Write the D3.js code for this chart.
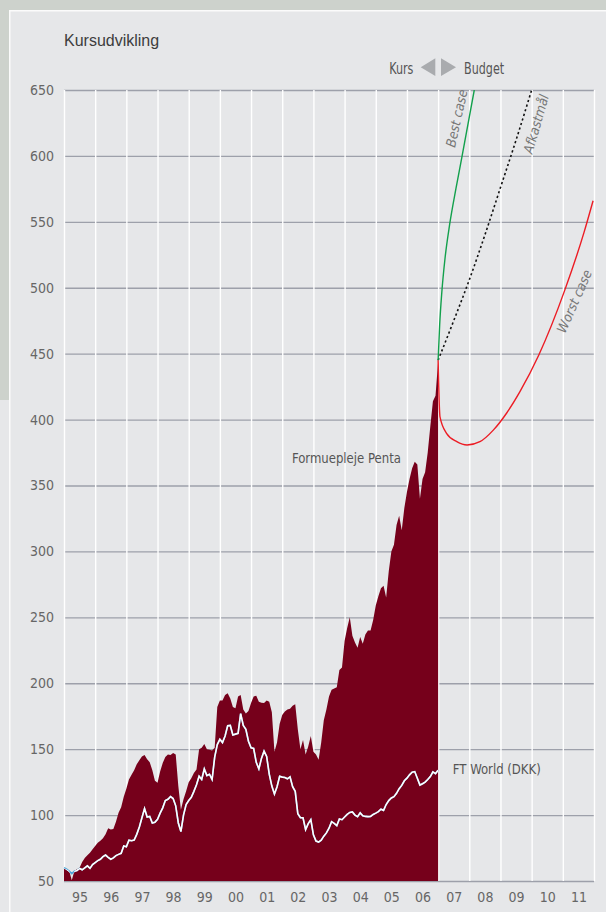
<!DOCTYPE html>
<html>
<head>
<meta charset="utf-8">
<script src="https://cdn.jsdelivr.net/npm/d3@7"></script>
<style>
  body { margin: 0; background: #e6e7e9; }
  svg { display: block; }
</style>
</head>
<body>
<div id="vis"></div>
<script>
// frame and plot dimensions
const FRAME_HEIGHT = 912;
const FRAME_WIDTH = 606;
const MARGINS = {left: 64, right: 12, top: 90, bottom: 31};
const VIS_HEIGHT = FRAME_HEIGHT - MARGINS.top - MARGINS.bottom;
const VIS_WIDTH = FRAME_WIDTH - MARGINS.left - MARGINS.right;

const NARROW = '"Liberation Sans Narrow", "Arial Narrow", "DejaVu Sans Condensed", sans-serif';

// monthly values, first value = jan 1995, last = jan 2007
const START_YEAR = 1995;
const PENTA = [
  59.6, 59, 57.5, 50.5, 57.5, 59, 60, 64.5, 67.5, 69.5, 71.5, 74,
  76.5, 79, 80.5, 82.5, 85.5, 90, 89, 89.5, 95, 101.8, 106, 114,
  120, 127, 130.5, 134, 138.5, 141.5, 144.5, 145.5, 142.3, 140, 134, 126,
  124.6, 133, 139.5, 144, 146, 145.5, 147, 146, 122, 104, 112, 118,
  125, 128, 132, 134.5, 150, 151, 154, 150, 149.5, 149, 151, 182,
  187, 187, 191, 192.5, 188.5, 182, 181, 190, 191, 180, 177, 179,
  185, 190, 190.5, 186, 185.3, 185, 187, 186, 178, 148, 155, 169,
  176, 178.5, 180, 180.7, 183, 184, 165, 150, 157, 146, 152, 160,
  148, 146, 142, 155, 172, 180, 190, 195, 196, 197, 210, 212,
  232, 242, 250, 236, 231, 227, 235, 230, 237, 240, 240, 248,
  259, 266, 272, 274, 265, 285, 300, 305, 320, 327, 316, 333,
  345, 355, 363, 368, 366, 340, 355, 360, 375, 395, 414, 418,
  444
];
const FT_WORLD = [
  60, 59, 57.5, 55.6, 57.5, 58, 59.5, 58.5, 60, 61.5, 59.6, 62.5,
  64, 65.5, 66.5, 68.5, 69.7, 68, 66.5, 67.5, 69.3, 70.2, 71, 76.5,
  76, 81, 80.5, 81, 85.4, 91, 98, 105, 98.5, 99, 94, 94.5,
  96.8, 101.5, 105.5, 111, 112, 114, 112.5, 107, 94, 87.5, 100, 108,
  111, 113.5, 118, 123, 129.5, 127, 135, 130, 131, 127, 144, 153.5,
  157.5, 155, 160, 167.8, 168, 160.8, 161.4, 162, 177, 168, 165, 156,
  151, 150.5, 140, 135, 143, 148.5, 144.5, 131, 122, 116, 121.5, 129.5,
  128.8, 128.5, 127.5, 129, 121.5, 118, 101, 98, 98, 89, 93.5, 96.5,
  85, 80.3, 79.5, 81, 84, 86.5, 90, 95, 93.7, 92, 97, 96.5,
  98.5, 100.5, 102, 102.4, 100, 98.8, 101.8, 99.5, 99, 98.8, 99, 100.5,
  101.5, 102.6, 104.5, 103.6, 108, 111, 113, 114, 116.5, 120, 122.5, 126,
  128, 130.5, 132.5, 133, 128, 122.8, 123.8, 125, 127, 129.2, 132.8, 131.5,
  134
];

// budget scenarios [year, value]
const BEST_CASE = [[2007.0, 445], [2007.05, 472], [2007.12, 497], [2007.22, 522],
  [2007.37, 548], [2007.57, 575], [2007.77, 600], [2008.16, 650]];
const AFKASTMAAL = [[2007.0, 445], [2007.5, 475], [2008.0, 506], [2008.5, 540],
  [2009.0, 576], [2009.5, 612], [2010.0, 650]];
const WORST_CASE = [[2007.0, 445], [2007.02, 425], [2007.06, 402], [2007.27, 389.6],
  [2007.6, 383.2], [2007.93, 380.7], [2008.34, 383.2], [2008.77, 392], [2009.2, 405],
  [2009.62, 421], [2010.23, 449], [2011.06, 498], [2011.68, 542], [2011.97, 566]];

const Y_TICKS = [50, 100, 150, 200, 250, 300, 350, 400, 450, 500, 550, 600, 650];
const GRID_YEARS = [1995, 1996, 1997, 1998, 1999, 2000, 2001, 2002, 2003, 2004,
  2005, 2006, 2007, 2008, 2009, 2010, 2011, 2012];
const YEAR_LABELS = ["95", "96", "97", "98", "99", "00", "01", "02", "03", "04",
  "05", "06", "07", "08", "09", "10", "11"];

// svg frame
const FRAME = d3.select("#vis")
  .append("svg")
    .attr("width", FRAME_WIDTH)
    .attr("height", FRAME_HEIGHT);

// panel background with the grey page border top-left
FRAME.append("rect").attr("width", FRAME_WIDTH).attr("height", FRAME_HEIGHT).attr("fill", "#e6e7e9");
FRAME.append("rect").attr("width", FRAME_WIDTH).attr("height", 10).attr("fill", "#cdd2cc");
FRAME.append("rect").attr("width", 9).attr("height", 400).attr("fill", "#cdd2cc");
FRAME.append("line").attr("x1", 9.75).attr("x2", 9.75).attr("y1", 10).attr("y2", FRAME_HEIGHT)
  .attr("stroke", "#fbfbfb").attr("stroke-width", 1.5);
FRAME.append("line").attr("x1", 9).attr("x2", FRAME_WIDTH).attr("y1", 10.75).attr("y2", 10.75)
  .attr("stroke", "#fbfbfb").attr("stroke-width", 1.5);

// scales
const X_SCALE = d3.scaleLinear().domain([1995, 2012]).range([0, VIS_WIDTH]);
const Y_SCALE = d3.scaleLinear().domain([50, 650]).range([VIS_HEIGHT, 0]);

const G = FRAME.append("g")
  .attr("transform", "translate(" + MARGINS.left + "," + MARGINS.top + ")");

// horizontal grid + y labels
const yAxis = G.append("g")
  .call(d3.axisLeft(Y_SCALE).tickValues(Y_TICKS).tickSize(-VIS_WIDTH).tickPadding(10));
yAxis.select(".domain").remove();
yAxis.selectAll("line").attr("stroke", "#9da0aa").attr("stroke-width", 1.3);
yAxis.selectAll("text")
  .attr("fill", "#666")
  .style("font-family", NARROW)
  .style("font-size", "14px");

// vertical white grid at year boundaries
const xGrid = G.append("g")
  .attr("transform", "translate(0," + VIS_HEIGHT + ")")
  .call(d3.axisBottom(X_SCALE).tickValues(GRID_YEARS).tickSize(-VIS_HEIGHT).tickFormat(""));
xGrid.select(".domain").remove();
xGrid.selectAll("line").attr("stroke", "#ffffff").attr("stroke-width", 1.4);

// year labels centred in each year
const xLabels = G.append("g")
  .attr("transform", "translate(0," + VIS_HEIGHT + ")")
  .call(d3.axisBottom(X_SCALE)
    .tickValues(YEAR_LABELS.map((d, i) => START_YEAR + i + 0.5))
    .tickFormat((d, i) => YEAR_LABELS[i])
    .tickSize(0).tickPadding(11));
xLabels.select(".domain").remove();
xLabels.selectAll("text")
  .attr("fill", "#666")
  .style("font-family", NARROW)
  .style("font-size", "14px");

// monthly data
const pentaData = PENTA.map((v, i) => ({year: START_YEAR + i / 12, value: v}));
const ftData = FT_WORLD.map((v, i) => ({year: START_YEAR + i / 12, value: v}));

const area = d3.area()
  .x((d) => X_SCALE(d.year))
  .y0(Y_SCALE(50))
  .y1((d) => Y_SCALE(d.value));

const line = d3.line()
  .x((d) => X_SCALE(d.year))
  .y((d) => Y_SCALE(d.value));

// clip paths: penta area (for white ft line) and plot box (for budget curves)
const defs = FRAME.append("defs");
defs.append("clipPath").attr("id", "pentaClip")
  .append("path").attr("d", area(pentaData));
defs.append("clipPath").attr("id", "plotClip")
  .append("rect").attr("x", 0).attr("y", 0).attr("width", VIS_WIDTH).attr("height", VIS_HEIGHT);

G.append("path")
  .attr("d", area(pentaData))
  .attr("fill", "#76001b");

// ft world: blue where it runs outside the area, white inside it
G.append("path")
  .attr("d", line(ftData))
  .attr("fill", "none")
  .attr("stroke", "#4ea6d8")
  .attr("stroke-width", 1.6);
G.append("path")
  .attr("d", line(ftData))
  .attr("clip-path", "url(#pentaClip)")
  .attr("fill", "none")
  .attr("stroke", "#ffffff")
  .attr("stroke-width", 1.6);

// budget scenarios
const curve = d3.line()
  .x((d) => X_SCALE(d[0]))
  .y((d) => Y_SCALE(d[1]))
  .curve(d3.curveMonotoneX);

const budget = G.append("g").attr("clip-path", "url(#plotClip)");
budget.append("path").attr("d", curve(AFKASTMAAL))
  .attr("fill", "none").attr("stroke", "#111").attr("stroke-width", 1.6)
  .attr("stroke-dasharray", "2.2,2.6");
budget.append("path").attr("d", curve(BEST_CASE))
  .attr("fill", "none").attr("stroke", "#12a04c").attr("stroke-width", 1.4);
budget.append("path").attr("d", curve(WORST_CASE))
  .attr("fill", "none").attr("stroke", "#ec1c24").attr("stroke-width", 1.4);

// rotated scenario labels
function scenarioLabel(text, year, value, angle) {
  G.append("text")
    .attr("transform", "translate(" + X_SCALE(year) + "," + Y_SCALE(value) + ") rotate(" + angle + ")")
    .attr("fill", "#777")
    .style("font-family", NARROW)
    .style("font-style", "italic")
    .style("font-size", "13.5px")
    .text(text);
}
scenarioLabel("Best case", 2007.54, 606, -77.5);
scenarioLabel("Afkastmål", 2010.02, 601, -74);
scenarioLabel("Worst case", 2011.07, 465, -66);

// series labels (narrow text squeezed a little)
function seriesLabel(text, year, value) {
  G.append("text")
    .attr("transform", "translate(" + X_SCALE(year) + "," + Y_SCALE(value) + ") scale(0.93,1)")
    .attr("fill", "#555")
    .style("font-family", NARROW).style("font-size", "14px")
    .text(text);
}
seriesLabel("Formuepleje Penta", 2002.31, 367);
seriesLabel("FT World (DKK)", 2007.47, 131.2);

// title
FRAME.append("text")
  .attr("x", 64).attr("y", 45.5)
  .attr("fill", "#3d3d3d")
  .style("font-family", '"Liberation Sans", Arial, sans-serif')
  .style("font-size", "16px")
  .text("Kursudvikling");

// Kurs <> Budget divider marker
const CX = MARGINS.left + X_SCALE(2007);
FRAME.append("text")
  .attr("transform", "translate(" + (CX - 24.8) + ",73.5) scale(0.75,1)")
  .attr("text-anchor", "end")
  .attr("fill", "#555")
  .style("font-family", NARROW).style("font-size", "16.5px")
  .text("Kurs");
FRAME.append("text")
  .attr("transform", "translate(" + (CX + 26) + ",73.5) scale(0.75,1)")
  .attr("fill", "#555")
  .style("font-family", NARROW).style("font-size", "16.5px")
  .text("Budget");
FRAME.append("path")
  .attr("d", "M" + (CX - 2.8) + ",58.3 L" + (CX - 2.8) + ",76 L" + (CX - 17.4) + ",67.2 Z")
  .attr("fill", "#a9abae");
FRAME.append("path")
  .attr("d", "M" + (CX + 2.9) + ",58.3 L" + (CX + 2.9) + ",76 L" + (CX + 17.9) + ",67.2 Z")
  .attr("fill", "#a9abae");
</script>
</body>
</html>
